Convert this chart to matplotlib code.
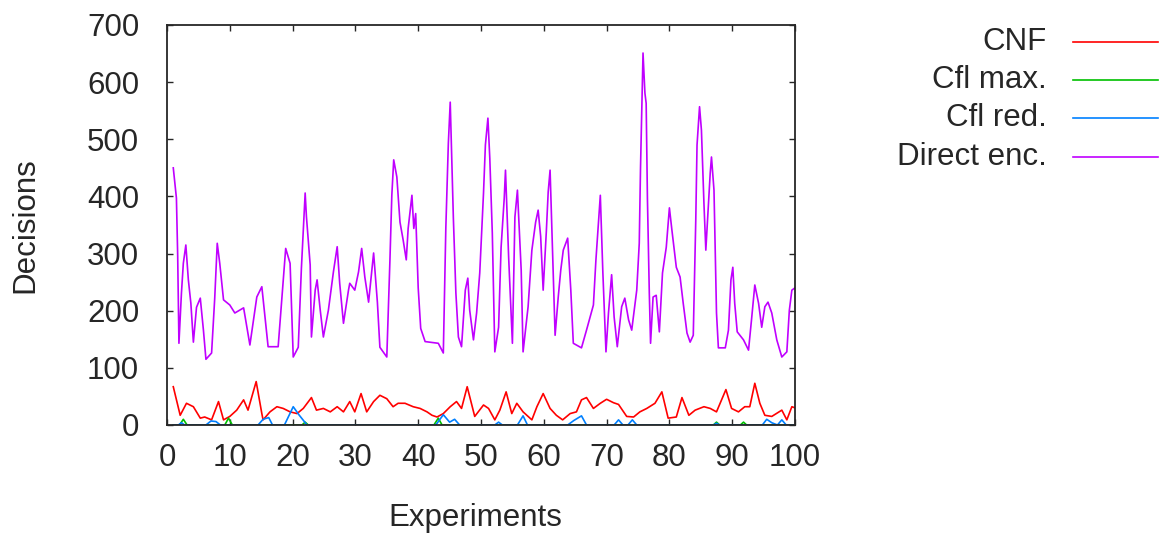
import matplotlib
matplotlib.use("Agg")
import matplotlib.pyplot as plt
from matplotlib.lines import Line2D

plt.rcParams["font.family"] = ["Liberation Sans", "DejaVu Sans"]

# CNF (red)
cnf_x = [1.0, 2.1, 3.1, 4.2, 5.3, 6.0, 7.1, 8.2, 9.0, 10.0, 11.1, 12.2, 12.9, 14.2, 15.1, 15.3,
         16.4, 17.5, 18.5, 19.6, 20.7, 21.7, 23.0, 23.8, 24.9, 26.0, 27.1, 28.1, 29.1, 29.9,
         30.9, 31.8, 32.9, 33.9, 35.0, 36.0, 36.8, 37.9, 39.2, 40.3, 41.4, 42.2, 43.0, 44.0,
         45.1, 46.1, 46.9, 47.8, 49.0, 50.4, 51.2, 52.2, 53.0, 54.0, 54.9, 55.7, 56.7, 58.1,
         58.9, 59.9, 61.0, 62.0, 63.0, 64.2, 65.2, 66.0, 66.8, 67.9, 69.0, 70.0, 71.1, 71.9,
         73.2, 74.3, 75.3, 76.4, 77.7, 78.8, 79.8, 81.1, 82.0, 83.1, 84.1, 85.5, 86.5, 87.5,
         89.0, 89.9, 91.0, 92.0, 92.8, 93.6, 94.4, 95.2, 96.3, 97.9, 98.7, 99.5, 100.0]
cnf_y = [67, 17, 38, 32, 12, 14, 9, 41, 9, 15, 26, 44, 26, 76, 20, 9,
         23, 32, 29, 23, 20, 29, 48, 26, 29, 23, 32, 23, 41, 23,
         55, 23, 41, 52, 46, 32, 38, 38, 32, 29, 23, 17, 14, 20,
         32, 41, 29, 67, 15, 35, 29, 9, 26, 58, 20, 38, 23, 9,
         32, 55, 29, 17, 9, 20, 23, 44, 48, 29, 38, 45, 39, 36,
         15, 14, 23, 29, 38, 58, 12, 14, 48, 17, 26, 32, 29, 23,
         62, 29, 23, 32, 32, 73, 38, 17, 15, 26, 9, 32, 30]

# Cfl max. (green)
cflmax_x = [1, 2.0, 2.6, 3.2, 9.2, 9.8, 10.4, 21.5, 22.0, 22.5, 42.5, 43.2, 43.8,
            87.0, 87.5, 88.0, 91.3, 91.8, 92.3, 100]
cflmax_y = [0, 0, 10, 0, 0, 12, 0, 0, 5, 0, 0, 12, 0,
            0, 5, 0, 0, 5, 0, 0]

# Cfl red. (blue)
cflred_x = [1, 1.8, 2.3, 2.8, 6.2, 7.0, 7.8, 8.5, 14.5, 15.3, 16.2, 16.8, 18.7, 20.1,
            21.0, 22.3, 42.8, 44.0, 45.0, 45.8, 46.6, 52.2, 52.8, 53.4, 55.8, 56.7, 57.4,
            63.8, 64.8, 66.0, 66.8, 71.2, 71.9, 72.6, 73.4, 74.1, 74.8, 87.0, 87.5, 88.0,
            94.8, 95.5, 96.3, 97.2, 97.9, 98.6, 100]
cflred_y = [0, 0, 4, 0, 0, 7, 6, 0, 0, 10, 13, 0, 0, 32,
            18, 0, 0, 18, 5, 10, 0, 0, 5, 0, 0, 16, 0,
            0, 8, 16, 0, 0, 9, 0, 0, 9, 0, 0, 3, 0,
            0, 10, 4, 0, 9, 0, 0]

# Direct enc. (purple)
direct_x = [1.0, 1.5, 1.7, 1.9, 2.3, 2.6, 3.0, 3.4, 3.8, 4.2, 4.7, 5.3, 5.8, 6.2, 7.1, 7.6,
            8.0, 8.4, 9.0, 10.0, 10.8, 12.2, 13.2, 14.3, 15.1, 15.6, 16.1, 17.7, 18.3, 18.9,
            19.6, 20.1, 20.9, 21.4, 22.0, 22.2, 22.8, 23.0, 23.6, 23.9, 24.4, 24.9, 25.7,
            26.5, 27.1, 27.5, 28.1, 28.9, 29.1, 29.9, 30.5, 31.0, 31.5, 32.1, 32.9, 33.5,
            33.9, 35.0, 35.5, 35.8, 36.1, 36.6, 37.1, 37.6, 38.1, 38.4, 39.0, 39.3, 39.6,
            40.0, 40.4, 41.1, 43.2, 44.0, 44.4, 44.8, 45.1, 45.6, 46.0, 46.4, 46.9, 47.5,
            47.9, 48.2, 48.8, 49.3, 49.8, 50.4, 50.7, 51.1, 51.4, 51.8, 52.2, 52.8, 53.2,
            53.7, 53.9, 54.4, 55.0, 55.4, 55.8, 56.4, 56.7, 57.5, 58.1, 58.7, 59.1, 59.5,
            59.9, 60.4, 60.7, 61.0, 61.4, 61.8, 62.3, 62.7, 63.1, 63.8, 64.3, 64.7, 66.0,
            66.8, 67.9, 68.3, 69.0, 69.4, 69.9, 70.3, 70.8, 71.2, 71.7, 72.4, 72.9, 73.5,
            74.0, 74.8, 75.2, 75.4, 75.8, 76.1, 76.3, 76.5, 76.8, 77.0, 77.4, 77.9, 78.4,
            78.9, 79.5, 80.0, 80.4, 81.1, 81.7, 82.2, 82.8, 83.3, 83.8, 84.2, 84.4, 84.8,
            85.1, 85.5, 85.8, 86.5, 86.7, 87.1, 87.5, 87.8, 88.9, 89.4, 89.8, 90.1, 90.4,
            90.8, 91.8, 92.6, 93.1, 93.6, 94.2, 94.7, 95.2, 95.7, 96.3, 97.1, 97.9, 98.7,
            99.1, 99.5, 100.0]
direct_y = [450, 397, 297, 143, 231, 283, 315, 254, 213, 145, 206, 222, 166, 115, 126, 222,
            318, 283, 219, 210, 196, 205, 140, 224, 242, 190, 137, 137, 224, 309,
            283, 119, 136, 274, 406, 365, 280, 154, 236, 254, 201, 154, 201,
            268, 312, 248, 178, 236, 248, 236, 268, 309, 259, 215, 301, 215,
            136, 119, 289, 402, 464, 434, 355, 324, 289, 344, 402, 344, 370,
            240, 169, 146, 143, 126, 345, 493, 565, 362, 231, 154, 137, 236,
            257, 201, 149, 196, 266, 406, 490, 537, 467, 336, 128, 171, 311,
            397, 446, 294, 143, 364, 411, 271, 128, 207, 306, 355, 376, 330,
            236, 338, 408, 446, 303, 157, 224, 271, 306, 327, 236, 143, 135,
            166, 210, 289, 402, 268, 128, 196, 263, 189, 137, 207, 222, 184,
            166, 236, 318, 450, 651, 581, 563, 397, 231, 143, 224, 227, 163,
            266, 311, 380, 341, 276, 259, 213, 161, 145, 157, 359, 490, 557,
            516, 388, 306, 441, 469, 411, 196, 135, 135, 166, 254, 276, 213,
            163, 149, 131, 187, 245, 213, 171, 207, 215, 196, 149, 119, 128,
            201, 236, 240]

series = [
    ("CNF", cnf_x, cnf_y, "#ff0000"),
    ("Cfl max.", cflmax_x, cflmax_y, "#00c000"),
    ("Cfl red.", cflred_x, cflred_y, "#0080ff"),
    ("Direct enc.", direct_x, direct_y, "#c000ff"),
]

txt_col = "#262626"
fs = 22.5

fig = plt.figure(figsize=(11.61, 5.38), dpi=100)
ax = fig.add_axes([167 / 1161, 1 - 425 / 538, (795 - 167) / 1161, 400 / 538])

for name, xs, ys, col in series:
    ax.plot(xs, ys, color=col, lw=1.2)

ax.set_xlim(0, 100)
ax.set_ylim(0, 700)
ax.set_xticks(range(0, 101, 10))
ax.set_yticks(range(0, 701, 100))
ax.tick_params(direction="in", length=4, width=1, top=True, right=True,
               labelsize=fs, colors=txt_col)
ax.tick_params(axis="y", pad=20)
ax.tick_params(axis="x", pad=13)
for s in ax.spines.values():
    s.set_linewidth(1.3)
    s.set_color(txt_col)

fig.text(25 / 1161, 1 - 225 / 538, "Decisions", rotation=90, fontsize=fs,
         ha="center", va="center", color=txt_col)
fig.text(475 / 1161, 1 - 518 / 538, "Experiments", fontsize=fs,
         ha="center", va="center", color=txt_col)

# legend, gnuplot style: text right-aligned, sample line to the right
rows_y = [42, 80, 118, 157]
for (name, xs, ys, col), ry in zip(series, rows_y):
    fy = 1 - ry / 538
    fig.text(1047 / 1161, fy, name, fontsize=fs, ha="right", va="center", color=txt_col)
    fig.add_artist(Line2D([1073 / 1161, 1158 / 1161], [fy, fy], color=col, lw=1.2,
                          transform=fig.transFigure))

fig.savefig("out.png", dpi=100)
